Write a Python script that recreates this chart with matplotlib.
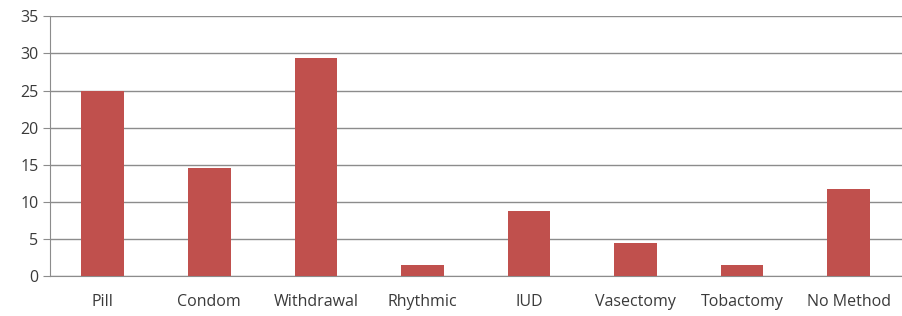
import matplotlib.pyplot as plt
import numpy as np

# data
methods = ["Pill", "Condom", "Withdrawal", "Rhythmic", "IUD",
           "Vasectomy", "Tobactomy", "No Method"]
percent = [25.0, 14.6, 29.4, 1.5, 8.7, 4.5, 1.5, 11.7]
yticks = [0, 5, 10, 15, 20, 25, 30, 35]

plt.rcParams["font.family"] = ["Open Sans", "DejaVu Sans"]

fig = plt.figure(figsize=(9.02, 3.16), dpi=100)
ax = fig.add_axes([0.0549, 0.1266, 0.9451, 0.8216])

x = np.arange(len(methods))
ax.bar(x, percent, width=0.4, color="#C0504D", zorder=3)

ax.set_xlim(-0.5, len(methods) - 0.5)
ax.set_ylim(0, 35)
ax.set_yticks(yticks)
ax.set_yticklabels([str(t) for t in yticks], fontsize=11.5, color="#3A3A3A")
ax.set_xticks(x)
ax.set_xticklabels(methods, fontsize=11.5, color="#3A3A3A")

ax.grid(axis="y", color="#8C8C8C", linewidth=1, zorder=0)
for s in ["top", "right"]:
    ax.spines[s].set_visible(False)
ax.spines["left"].set_color("#8C8C8C")
ax.spines["bottom"].set_color("#8C8C8C")
ax.tick_params(axis="y", length=5, color="#8C8C8C", pad=3)
ax.tick_params(axis="x", length=0, pad=13)

plt.savefig("out.png", dpi=100)
